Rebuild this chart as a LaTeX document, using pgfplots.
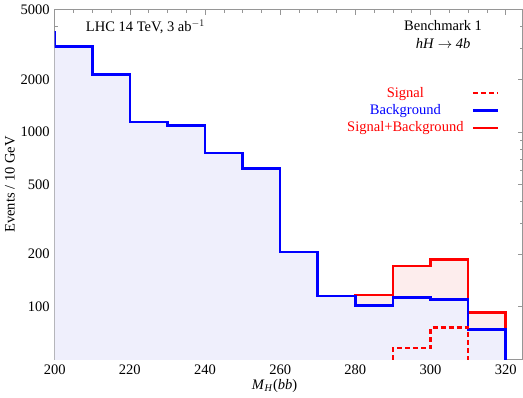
\documentclass[border=0pt]{standalone}
\usepackage{fontspec}
\setmainfont{Liberation Serif}
\usepackage{pgfplots}
\pgfplotsset{compat=1.18}
\definecolor{bgfill}{RGB}{239,239,252}
\definecolor{sbfill}{RGB}{253,237,237}
\definecolor{framegray}{RGB}{150,150,150}

\begin{document}
\fontsize{14.5}{17.4}\selectfont
\begin{tikzpicture}
\begin{semilogyaxis}[
  scale only axis, width=467pt, height=349pt,
  xmin=200, xmax=324.5, ymin=50, ymax=5000,
  xtick={200,220,...,320}, xticklabels={200,220,240,260,280,300,320},
  minor x tick num=3,
  ytick={100,200,500,1000,2000,5000}, yticklabels={100,200,500,1000,2000,5000},
  minor ytick={300,400,600,700,800,900,3000,4000},
  tick align=inside,
  axis line style={framegray, line width=0.8pt},
  every tick/.style={framegray, line width=0.6pt},
  major tick length=5pt, minor tick length=3pt,
  /pgf/number format/assume math mode=true,
  xlabel={\textit{M}\textsubscript{\textit{H}}(\textit{bb})},
  ylabel={Events / 10 GeV},
  xlabel style={at={(axis description cs:0.47,-0.077)}, anchor=center},
  ylabel style={at={(axis description cs:-0.096,0.5)}, anchor=center},
  legend plot pos=right, legend cell align=center,
  legend image code/.code={\draw[#1] (0pt,0pt) -- (25pt,0pt);},
  legend style={draw=none, fill=none, at={(rel axis cs:0.95,0.785)}, anchor=north east,
    row sep=1pt, column sep=6pt, inner sep=0pt},
]
% signal+background fill, then background fill on top
\addplot[const plot, fill=sbfill, draw=none, forget plot] coordinates
  {(270,115)(280,116.5)(290,171)(300,186)(310,93)(320,1)(330,1)} \closedcycle;
\addplot[const plot, fill=bgfill, draw=none, forget plot] coordinates
  {(190,3700)(200,3080)(210,2130)(220,1140)(230,1086)(240,759)(250,617)(260,206)
   (270,115)(280,101.7)(290,113)(300,110)(310,74.2)(320,1)(330,1)} \closedcycle;
% lines
\addplot[const plot, red, line width=2.6pt, forget plot] coordinates
  {(270,115)(280,116.5)(290,171)(300,186)(310,93)(320,1)(330,1)};
\addplot[const plot, blue, line width=2.6pt, forget plot] coordinates
  {(190,3700)(200,3080)(210,2130)(220,1140)(230,1086)(240,759)(250,617)(260,206)
   (270,115)(280,101.7)(290,113)(300,110)(310,74.2)(320,1)(330,1)};
\addplot[const plot, red, line width=2.6pt, dash pattern=on 5pt off 3pt, forget plot] coordinates
  {(280,15)(290,58)(300,76)(310,19)(320,1)(330,1)};

\addlegendimage{red, line width=2.4pt, dash pattern=on 5pt off 3pt}
\addlegendentry{\textcolor{red}{Signal}}
\addlegendimage{blue, line width=2.4pt}
\addlegendentry{\textcolor{blue}{Background}}
\addlegendimage{red, line width=2.4pt}
\addlegendentry{\textcolor{red}{Signal+Background}}

\node at (rel axis cs:0.194,0.951) {LHC 14 TeV, 3 ab$^{-1}$};
\node at (rel axis cs:0.830,0.954) {Benchmark 1};
\node at (rel axis cs:0.830,0.903) {\textit{hH} $\rightarrow$ \textit{4b}};
\end{semilogyaxis}
\end{tikzpicture}
\end{document}
